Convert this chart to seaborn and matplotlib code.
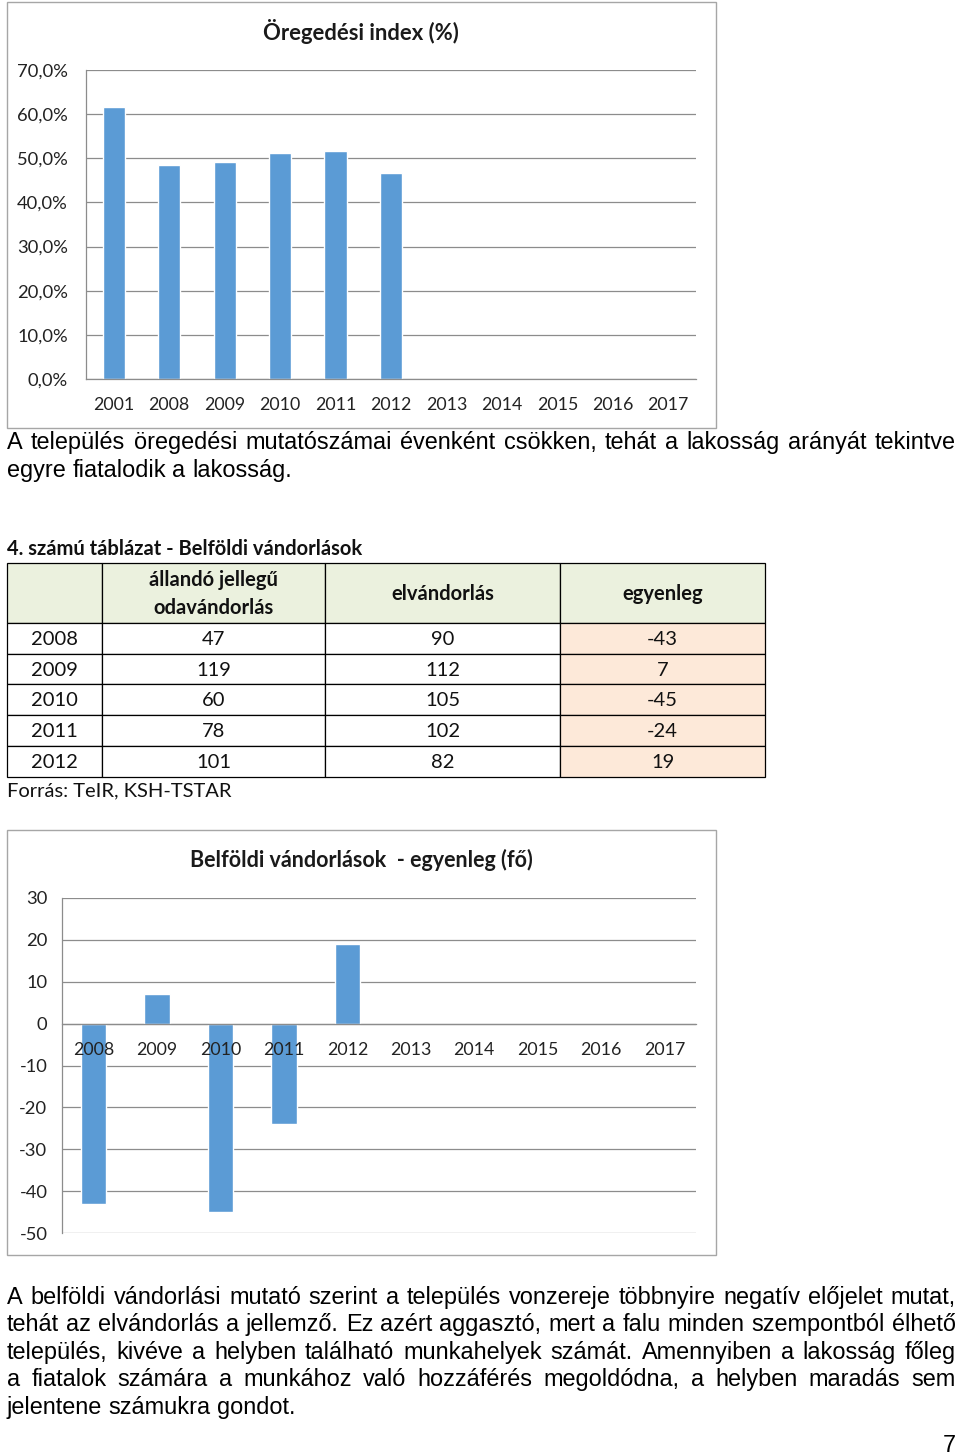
import numpy as np
import pandas as pd
import matplotlib
matplotlib.use("Agg")
import matplotlib.pyplot as plt
from matplotlib.patches import Rectangle
from matplotlib.ticker import FuncFormatter, FixedLocator
import seaborn as sns

# ---------------- data ----------------
years_aging = ["2001", "2008", "2009", "2010", "2011", "2012", "2013", "2014", "2015", "2016", "2017"]
aging_index = [61.6, 48.5, 49.1, 51.3, 51.6, 46.6, np.nan, np.nan, np.nan, np.nan, np.nan]

table_years = ["2008", "2009", "2010", "2011", "2012"]
immigration = [47, 119, 60, 78, 101]
emigration = [90, 112, 105, 102, 82]
balance = [-43, 7, -45, -24, 19]
table_header = ["", "állandó jellegű\nodavándorlás", "elvándorlás", "egyenleg"]

years_balance = ["2008", "2009", "2010", "2011", "2012", "2013", "2014", "2015", "2016", "2017"]
balance_chart = [-43, 7, -45, -24, 19, np.nan, np.nan, np.nan, np.nan, np.nan]

title1 = "Öregedési index (%)"
title2 = "Belföldi vándorlások  - egyenleg (fő)"
table_title = "4. számú táblázat - Belföldi vándorlások"
source = "Forrás: TeIR, KSH-TSTAR"
para1 = ["A település öregedési mutatószámai évenként csökken, tehát a lakosság arányát tekintve",
         "egyre fiatalodik a lakosság."]
para2 = ["A belföldi vándorlási mutató szerint a település vonzereje többnyire negatív előjelet mutat,",
         "tehát az elvándorlás a jellemző. Ez azért aggasztó, mert a falu minden szempontból élhető",
         "település, kivéve a helyben található munkahelyek számát. Amennyiben a lakosság főleg",
         "a fiatalok számára a munkához való hozzáférés megoldódna, a helyben maradás sem",
         "jelentene számukra gondot."]
page_number = "7"

# ---------------- setup ----------------
sns.set_theme(style="white")
plt.rcParams["font.family"] = ["Lato", "DejaVu Sans"]
plt.rcParams["axes.unicode_minus"] = False

W, H = 960, 1456
fig = plt.figure(figsize=(W / 100, H / 100), dpi=100)
fig.patch.set_facecolor("white")

BAR = "#5B9BD5"
GRID = "#8C8C8C"
FRAME = "#A6A6A6"
CF = "Lato"


def rect(x0, y0, x1, y1):
    return [x0 / W, 1 - y1 / H, (x1 - x0) / W, (y1 - y0) / H]


def frame(x0, y0, x1, y1):
    fig.patches.append(Rectangle((x0 / W, 1 - y1 / H), (x1 - x0) / W, (y1 - y0) / H,
                                 transform=fig.transFigure, fill=False,
                                 edgecolor=FRAME, linewidth=1.0))


def style_bar_axes(ax, n, yticks):
    for s in ["top", "right"]:
        ax.spines[s].set_visible(False)
    ax.spines["left"].set_color(GRID)
    ax.spines["bottom"].set_color(GRID)
    ax.spines["left"].set_linewidth(0.9)
    ax.spines["bottom"].set_linewidth(0.9)
    ax.set_axisbelow(False)
    ax.grid(False)
    for v in yticks:
        ax.axhline(v, color=GRID, linewidth=0.9, zorder=0.5)
    ax.set_xlim(-0.5, n - 0.5)
    ax.xaxis.set_minor_locator(FixedLocator(np.arange(-0.5, n, 1.0)))
    ax.tick_params(axis="x", which="major", length=0, pad=13, labelsize=12.8, colors="#222222")
    ax.tick_params(axis="x", which="minor", length=6, width=0.9, color=GRID, direction="out")
    ax.tick_params(axis="y", which="major", length=5, width=0.9, color=GRID,
                   direction="out", labelsize=13.2, colors="#222222", pad=8)
    ax.set_xlabel("")
    ax.set_ylabel("")
    ax.set_facecolor("white")


# ---------------- chart 1 ----------------
frame(7, 2, 716, 428)
ax1 = fig.add_axes(rect(86, 70, 696, 379))
df1 = pd.DataFrame({"year": years_aging, "value": aging_index})
sns.barplot(data=df1, x="year", y="value", order=years_aging, color=BAR,
            saturation=1, width=0.4, ax=ax1, zorder=1)
ax1.set_ylim(0, 70)
yt1 = np.arange(0, 71, 10)
ax1.set_yticks(yt1)
ax1.yaxis.set_major_formatter(FuncFormatter(lambda v, p: f"{v:.1f}%".replace(".", ",")))
style_bar_axes(ax1, len(years_aging), yt1)
fig.text(361 / W, 1 - 32 / H, title1, ha="center", va="center",
         fontsize=15.8, fontweight="bold", family=CF, color="#1a1a1a")

# ---------------- chart 2 ----------------
frame(7, 830, 716, 1255)
ax2 = fig.add_axes(rect(62, 898, 696, 1233))
df2 = pd.DataFrame({"year": years_balance, "value": balance_chart})
sns.barplot(data=df2, x="year", y="value", order=years_balance, color=BAR,
            saturation=1, width=0.4, ax=ax2, zorder=1)
ax2.set_ylim(-50, 30)
yt2 = np.arange(-50, 31, 10)
ax2.set_yticks(yt2)
ax2.yaxis.set_major_formatter(FuncFormatter(lambda v, p: f"{int(round(v))}"))
style_bar_axes(ax2, len(years_balance), yt2)
ax2.spines["bottom"].set_position(("data", 0))
ax2.tick_params(axis="y", pad=5.5)
fig.text(361 / W, 1 - 860 / H, title2, ha="center", va="center",
         fontsize=15.5, fontweight="bold", family=CF, color="#1a1a1a")

# ---------------- table ----------------
tax = fig.add_axes([0, 0, 1, 1])
tax.set_xlim(0, W)
tax.set_ylim(H, 0)
tax.axis("off")
tax.patch.set_alpha(0)

col_x = [7, 102, 325, 560, 765]
row_y = [563, 623, 654, 684, 715, 746, 777]
HEAD_BG = "#EBF1DE"
BAL_BG = "#FDE9D9"
TFS = 14.5

for c in range(4):
    tax.add_patch(Rectangle((col_x[c], row_y[0]), col_x[c + 1] - col_x[c], row_y[1] - row_y[0],
                            facecolor=HEAD_BG, edgecolor="black", linewidth=0.9))
    if table_header[c]:
        tax.text((col_x[c] + col_x[c + 1]) / 2, (row_y[0] + row_y[1]) / 2 + 1, table_header[c],
                 ha="center", va="center", fontsize=TFS, fontweight="bold", family=CF,
                 linespacing=1.5, color="#111111")

rows = list(zip(table_years, immigration, emigration, balance))
for r, vals in enumerate(rows):
    y0, y1 = row_y[r + 1], row_y[r + 2]
    for c in range(4):
        fc = BAL_BG if c == 3 else "white"
        tax.add_patch(Rectangle((col_x[c], y0), col_x[c + 1] - col_x[c], y1 - y0,
                                facecolor=fc, edgecolor="black", linewidth=0.9))
        tax.text((col_x[c] + col_x[c + 1]) / 2, (y0 + y1) / 2 + 1, str(vals[c]),
                 ha="center", va="center", fontsize=TFS, family=CF, color="#111111")

tax.text(7, 549, table_title, ha="left", va="center", fontsize=TFS, fontweight="bold",
         family=CF, color="#111111")
tax.text(7, 791, source, ha="left", va="center", fontsize=TFS, family=CF, color="#111111")

# ---------------- justified paragraphs ----------------
BODY_FONT = ["Liberation Sans", "DejaVu Sans"]
BFS = 16.9
renderer = fig.canvas.get_renderer()


def word_width(w):
    t = tax.text(0, 0, w, fontsize=BFS, family=BODY_FONT)
    bb = t.get_window_extent(renderer)
    t.remove()
    return bb.width


def para_line(text, y, justify, x0=7, x1=956):
    words = text.split(" ")
    widths = [word_width(w) for w in words]
    if justify and len(words) > 1:
        gap = (x1 - x0 - sum(widths)) / (len(words) - 1)
    else:
        gap = word_width("a b") - word_width("a") - word_width("b")
    x = x0
    for w, wd in zip(words, widths):
        tax.text(x, y + 7, w, ha="left", va="baseline", fontsize=BFS, family=BODY_FONT,
                 color="black")
        x += wd + gap


for i, (line, y) in enumerate(zip(para1, [442, 470])):
    para_line(line, y, justify=(i < len(para1) - 1))
for i, (line, y) in enumerate(zip(para2, [1297, 1324, 1352, 1379, 1407])):
    para_line(line, y, justify=(i < len(para2) - 1))

tax.text(956, 1452, page_number, ha="right", va="baseline", fontsize=BFS, family=BODY_FONT,
         color="black")

fig.savefig("out.png", dpi=100)
